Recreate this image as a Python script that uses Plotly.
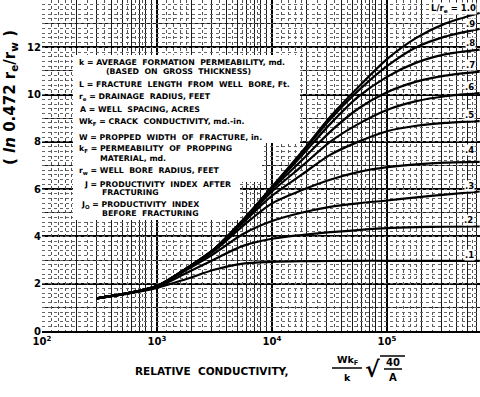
import math
import plotly.graph_objects as go

# ---------------- data ----------------
rel_conductivity = [300, 560, 1000, 1800, 3200, 5600, 10000, 18000, 32000, 56000, 100000, 180000, 320000, 640000]
L_over_re = ["1.0", ".9", ".8", ".7", ".6", ".5", ".4", ".3", ".2", ".1"]
ratio_10 = [1.38, 1.6, 1.9, 2.65, 3.5, 4.7, 6.1, 7.55, 9.05, 10.3, 11.5, 12.4, 13.0, 13.45]
ratio_09 = [1.38, 1.6, 1.9, 2.65, 3.5, 4.7, 6.08, 7.5, 8.95, 10.15, 11.2, 12.0, 12.45, 12.78]
ratio_08 = [1.38, 1.6, 1.9, 2.64, 3.5, 4.68, 6.05, 7.4, 8.75, 9.9, 10.75, 11.35, 11.7, 11.9]
ratio_07 = [1.38, 1.6, 1.9, 2.64, 3.48, 4.66, 6.0, 7.2, 8.42, 9.4, 10.1, 10.55, 10.8, 10.97]
ratio_06 = [1.38, 1.6, 1.9, 2.63, 3.47, 4.62, 5.9, 6.95, 8.0, 8.75, 9.35, 9.72, 9.93, 10.06]
ratio_05 = [1.38, 1.6, 1.9, 2.63, 3.45, 4.58, 5.72, 6.6, 7.45, 8.0, 8.45, 8.68, 8.8, 8.88]
ratio_04 = [1.38, 1.6, 1.9, 2.62, 3.42, 4.45, 5.4, 5.95, 6.4, 6.72, 6.93, 7.05, 7.12, 7.15]
ratio_03 = [1.38, 1.6, 1.88, 2.58, 3.3, 4.1, 4.65, 5.0, 5.25, 5.4, 5.52, 5.65, 5.77, 5.9]
ratio_02 = [1.38, 1.6, 1.86, 2.45, 3.05, 3.6, 3.9, 4.06, 4.18, 4.27, 4.35, 4.39, 4.41, 4.42]
ratio_01 = [1.38, 1.58, 1.82, 2.2, 2.6, 2.85, 2.92, 2.95, 2.96, 2.97, 2.97, 2.97, 2.97, 2.97]
series = [ratio_10, ratio_09, ratio_08, ratio_07, ratio_06, ratio_05, ratio_04, ratio_03, ratio_02, ratio_01]

x_tickvals = [100, 1000, 10000, 100000]
x_ticktext = ["10<sup>2</sup>", "10<sup>3</sup>", "10<sup>4</sup>", "10<sup>5</sup>"]
y_tickvals = [0, 2, 4, 6, 8, 10, 12, 14]

legend_lines = [
    ("k = AVERAGE  FORMATION  PERMEABILITY, md.", 77, 63),
    ("(BASED  ON  GROSS  THICKNESS)", 104, 72),
    ("L = FRACTURE  LENGTH  FROM  WELL  BORE, Ft.", 77, 84),
    ("r<sub>e</sub> = DRAINAGE  RADIUS, FEET", 77, 97),
    ("A = WELL  SPACING, ACRES", 78, 109),
    ("Wk<sub>F</sub> = CRACK  CONDUCTIVITY, md.-in.", 77, 122),
    ("W = PROPPED  WIDTH  OF  FRACTURE, in.", 77, 137),
    ("k<sub>F</sub> = PERMEABILITY  OF  PROPPING", 77, 149),
    ("MATERIAL, md.", 98, 158),
    ("r<sub>w</sub> = WELL  BORE  RADIUS, FEET", 77, 171),
    ("J = PRODUCTIVITY  INDEX  AFTER", 82, 184),
    ("FRACTURING", 100, 193),
    ("J<sub>O</sub> = PRODUCTIVITY  INDEX", 79, 205),
    ("BEFORE  FRACTURING", 100, 214),
]
curve_label_pos = [(477, 9), (476, 24), (476, 43), (476, 65), (475, 87), (475, 115), (475, 150), (475, 186), (474, 220), (475, 255)]

# ---------------- layout helpers ----------------
W, H = 480, 397
L, R, T, B = 42, 0, 0, 66
PW, PH = W - L - R, H - T - B


def px(x):
    return (x - L) / PW


def py(y):
    return (H - B - y) / PH


FONT = "DejaVu Sans"
fig = go.Figure()

for name, vals in zip(L_over_re, series):
    fig.add_trace(go.Scatter(x=rel_conductivity, y=vals, mode="lines", name=name,
                             line=dict(color="black", width=2.2, shape="spline", smoothing=0.8),
                             hoverinfo="skip"))

# empty trace to activate the fine-grid overlay axes
fig.add_trace(go.Scatter(x=[None], y=[None], xaxis="x2", yaxis="y2", showlegend=False, hoverinfo="skip"))

fine_mult = [1.2, 1.4, 1.6, 1.8, 2.5, 3.5, 4.5, 5.5, 6.5, 7.5]
fine_x = [math.log10(m * 10 ** d) for d in range(2, 6) for m in fine_mult if m * 10 ** d < 6.4e5]

fig.update_layout(
    width=W, height=H, margin=dict(l=L, r=R, t=T, b=B),
    plot_bgcolor="white", paper_bgcolor="white", showlegend=False,
    xaxis=dict(type="log", range=[2, 5.809], tickvals=x_tickvals, ticktext=x_ticktext,
               showgrid=True, gridcolor="black", gridwidth=2, zeroline=False, ticks="",
               showline=True, linecolor="black", linewidth=2,
               tickfont=dict(family=FONT, size=10, color="black", weight="bold"),
               minor=dict(dtick="D1", showgrid=True, gridcolor="#1a1a1a", gridwidth=0.9)),
    yaxis=dict(range=[0, 14], tickvals=y_tickvals, showgrid=True, gridcolor="black", gridwidth=1.6,
               zeroline=False, ticks="", showline=False,
               tickfont=dict(family=FONT, size=10, color="black", weight="bold"),
               minor=dict(dtick=1, showgrid=True, gridcolor="#1a1a1a", gridwidth=0.9)),
    xaxis2=dict(overlaying="x", range=[2, 5.809], tickvals=fine_x, showticklabels=False,
                showgrid=True, gridcolor="#555", gridwidth=0.8, griddash="dot", zeroline=False, ticks=""),
    yaxis2=dict(overlaying="y", range=[0, 14], dtick=0.2, showticklabels=False,
                showgrid=True, gridcolor="#666", gridwidth=0.7, griddash="dot", zeroline=False, ticks=""),
)

# white lettering areas over the graph paper (kept clear of the curves)
for (x0, x1, y0, y1) in [(73, 300, 55, 143), (73, 262, 143, 182), (73, 240, 182, 220)]:
    fig.add_shape(type="rect", xref="paper", yref="paper", layer="above",
                  x0=px(x0), x1=px(x1), y0=py(y1), y1=py(y0),
                  fillcolor="white", line=dict(width=0))

ann = []
for txt, x, y in legend_lines:
    ann.append(dict(text=txt, x=px(x), y=py(y), xref="paper", yref="paper", xanchor="left",
                    yanchor="middle", showarrow=False,
                    font=dict(family=FONT, size=7.8, color="black", weight="bold")))

for name, (x, y) in zip(L_over_re, curve_label_pos):
    txt = "L/r<sub>e</sub> = 1.0" if name == "1.0" else name
    ann.append(dict(text=txt, x=px(x), y=py(y), xref="paper", yref="paper", xanchor="right",
                    yanchor="middle", showarrow=False, bgcolor="white", borderpad=0,
                    font=dict(family=FONT, size=8.5, color="black", weight="bold")))

# y-axis title (partly cut at the left edge)
ann.append(dict(text="( <i>ln</i> 0.472 r<sub>e</sub>/r<sub>w</sub> )", x=px(11), y=py(98),
                xref="paper", yref="paper", xanchor="center", yanchor="middle",
                textangle=-90, showarrow=False,
                font=dict(family=FONT, size=15, color="black", weight="bold")))

# x-axis title with fraction and square root
ann.append(dict(text="RELATIVE  CONDUCTIVITY,", x=px(133), y=py(371), xref="paper", yref="paper",
                xanchor="left", yanchor="middle", showarrow=False,
                font=dict(family=FONT, size=10.5, color="black", weight="bold")))
for txt, x, y, s in [("Wk<sub>F</sub>", 347, 360, 9.5), ("k", 347, 377, 9.5),
                     ("40", 393, 362, 10), ("A", 393, 377, 10), ("√", 372, 369, 22)]:
    ann.append(dict(text=txt, x=px(x), y=py(y), xref="paper", yref="paper", xanchor="center",
                    yanchor="middle", showarrow=False,
                    font=dict(family=FONT, size=s, color="black", weight="bold")))
fig.update_layout(annotations=ann)
for (x0, x1, y) in [(332, 362, 368), (384, 402, 369), (380, 405, 356)]:
    fig.add_shape(type="line", xref="paper", yref="paper", x0=px(x0), x1=px(x1), y0=py(y), y1=py(y),
                  line=dict(color="black", width=1.5))

fig.write_html("out.html", config={"displayModeBar": False},
               post_script="document.body.style.margin='0';document.body.style.padding='0';")
